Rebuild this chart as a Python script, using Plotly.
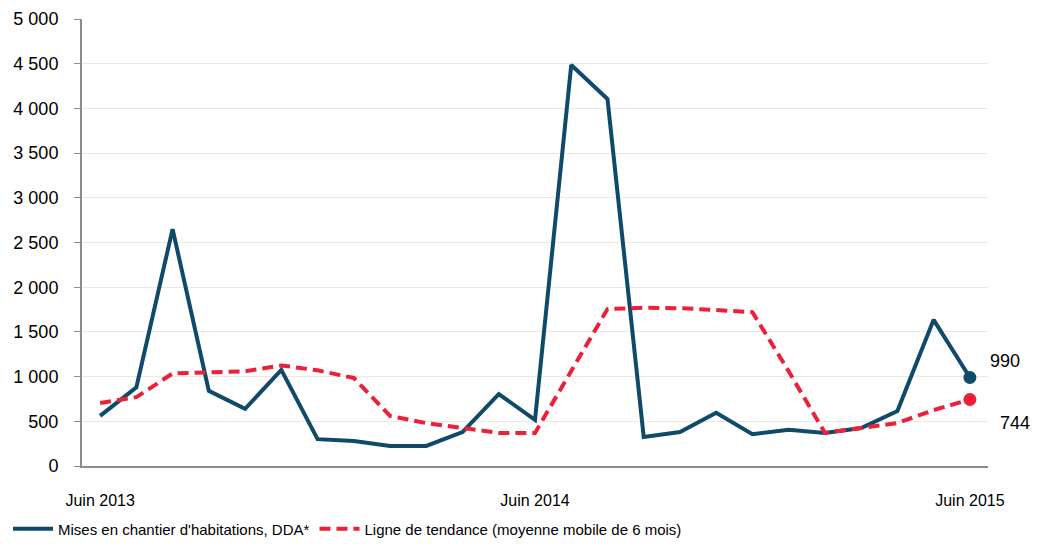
import plotly.graph_objects as go

months = ["Juin 2013", "Juil 2013", "Août 2013", "Sept 2013", "Oct 2013", "Nov 2013", "Déc 2013",
          "Janv 2014", "Févr 2014", "Mars 2014", "Avr 2014", "Mai 2014", "Juin 2014",
          "Juil 2014", "Août 2014", "Sept 2014", "Oct 2014", "Nov 2014", "Déc 2014",
          "Janv 2015", "Févr 2015", "Mars 2015", "Avr 2015", "Mai 2015", "Juin 2015"]
mises_en_chantier = [560, 880, 2650, 840, 640, 1075, 300, 280, 225, 225, 380, 805, 515,
                     4485, 4105, 325, 380, 595, 355, 405, 370, 425, 615, 1635, 990]
tendance = [705, 770, 1035, 1050, 1060, 1125, 1070, 985, 560, 480, 425, 370, 370,
            1060, 1755, 1770, 1765, 1745, 1720, 1060, 370, 425, 480, 625, 744]
x_ticks = ["Juin 2013", "Juin 2014", "Juin 2015"]
y_ticks = [0, 500, 1000, 1500, 2000, 2500, 3000, 3500, 4000, 4500, 5000]
y_ticktext = ["0", "500", "1 000", "1 500", "2 000", "2 500", "3 000", "3 500", "4 000", "4 500", "5 000"]

BLUE = "#0f4a6a"
RED = "#ec2139"
FONT = "Liberation Sans, Arial, sans-serif"

fig = go.Figure()
fig.add_trace(go.Scatter(
    x=months, y=mises_en_chantier, mode="lines",
    name="Mises en chantier d'habitations, DDA*",
    line=dict(color=BLUE, width=4)))
fig.add_trace(go.Scatter(
    x=months, y=tendance, mode="lines",
    name="Ligne de tendance (moyenne mobile de 6 mois)",
    line=dict(color=RED, width=4, dash="11px,6px")))
fig.add_trace(go.Scatter(
    x=[months[-1]], y=[mises_en_chantier[-1]], mode="markers", showlegend=False,
    marker=dict(color=BLUE, size=13)))
fig.add_trace(go.Scatter(
    x=[months[-1]], y=[tendance[-1]], mode="markers", showlegend=False,
    marker=dict(color=RED, size=13)))

fig.add_annotation(x=months[-1], y=mises_en_chantier[-1], text=str(mises_en_chantier[-1]),
                   showarrow=False, xanchor="left", xshift=18, yshift=16,
                   font=dict(size=18, color="#000", family=FONT))
fig.add_annotation(x=months[-1], y=tendance[-1], text=str(tendance[-1]),
                   showarrow=False, xanchor="left", xshift=28, yshift=-24,
                   font=dict(size=18, color="#000", family=FONT))

fig.update_layout(
    width=1024, height=535,
    margin=dict(l=74, r=44, t=11, b=77, autoexpand=False),
    paper_bgcolor="white", plot_bgcolor="white",
    font=dict(family=FONT, size=16, color="#000"),
    showlegend=True,
    legend=dict(orientation="h", xref="container", yref="container",
                x=0.0, xanchor="left", y=0.026, yanchor="middle",
                font=dict(size=15, family=FONT), itemwidth=40,
                traceorder="normal",
                bgcolor="rgba(0,0,0,0)"),
    xaxis=dict(type="category", categoryorder="array", categoryarray=months,
               range=[-0.5, len(months) - 0.5], automargin=False,
               tickmode="array", tickvals=x_ticks, ticktext=x_ticks,
               ticks="outside", ticklen=19, tickcolor="rgba(0,0,0,0)",
               showline=True, linecolor="#8c8c8c", linewidth=2,
               showgrid=False, zeroline=False,
               tickfont=dict(size=16, family=FONT)),
    yaxis=dict(range=[0, 5000], tickmode="array", tickvals=y_ticks, ticktext=y_ticktext,
               automargin=False,
               ticks="outside", ticklen=6, tickcolor="#8c8c8c", ticklabelstandoff=12,
               showline=True, linecolor="#8c8c8c", linewidth=2,
               showgrid=True, gridcolor="#ece9dc", gridwidth=1, zeroline=False,
               tickfont=dict(size=18, family=FONT)),
)

fig.write_html("out.html")
